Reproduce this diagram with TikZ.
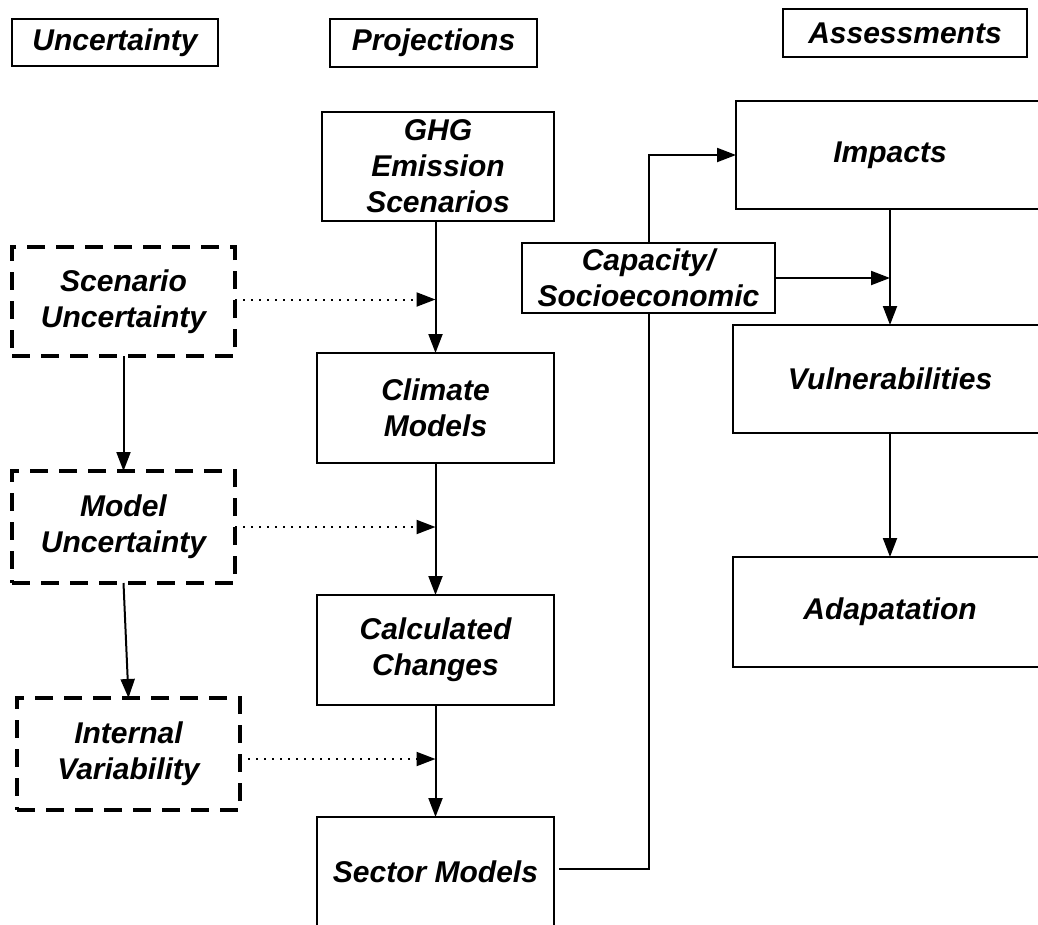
\documentclass[tikz,border=0pt]{standalone}
\usepackage{fontspec}
\setmainfont{Liberation Sans}
\usetikzlibrary{arrows.meta,backgrounds}

\tikzset{
  base/.style={inner sep=0pt, outer sep=0pt, align=center,
    font=\fontsize{30}{36}\selectfont\bfseries\itshape},
  box/.style={base, draw=black, line width=2pt, fill=white},
  dbox/.style={base, draw=black, line width=3.2pt, fill=white,
    dash pattern=on 18pt off 11pt},
  flow/.style={line width=2pt, -{Triangle[length=19pt,width=14pt]}},
  hint/.style={line width=2pt, dash pattern=on 2pt off 6pt,
    -{Triangle[length=19pt,width=14pt]}}
}

\begin{document}
\begin{tikzpicture}[x=1pt,y=-1pt]
\useasboundingbox (0,0) rectangle (1038,924);
\clip (0,0) rectangle (1038,924);

% column headings
\node[box, minimum width=206pt, minimum height=47pt] (hU) at (115,42.5) {Uncertainty};
\node[box, minimum width=207pt, minimum height=48pt] (hP) at (433.5,43) {Projections};
\node[box, minimum width=244pt, minimum height=48pt] (hA) at (905,33) {Assessments};

% projection chain
\node[box, minimum width=232pt, minimum height=109pt] (ghg) at (438,166.5) {GHG\\Emission\\Scenarios};
\node[box, minimum width=237pt, minimum height=110pt] (clim) at (435.5,408) {Climate\\Models};
\node[box, minimum width=237pt, minimum height=110pt] (calc) at (435.5,650) {Calculated\\Changes};
\node[box, minimum width=237pt, minimum height=110pt] (sec) at (435.5,872) {Sector Models};

% sources of uncertainty
\node[dbox, minimum width=223pt, minimum height=109pt] (scen) at (123.5,301.5) {Scenario\\Uncertainty};
\node[dbox, minimum width=223pt, minimum height=112pt] (mod) at (123.5,527) {Model\\Uncertainty};
\node[dbox, minimum width=223pt, minimum height=112pt] (intv) at (128.5,754) {Internal\\Variability};

% assessment chain
\node[box, minimum width=253pt, minimum height=70pt] (cap) at (648.5,278) {Capacity/\\Socioeconomic};
\node[box, minimum width=308pt, minimum height=108pt] (imp) at (890,155) {Impacts};
\node[box, minimum width=314pt, minimum height=108pt] (vul) at (890,379) {Vulnerabilities};
\node[box, minimum width=314pt, minimum height=110pt] (ada) at (890,612) {Adapatation};

% sector output routed behind the capacity box up to impacts
\coordinate (bend) at (649,0);
\coordinate (secout) at ([xshift=5pt,yshift=3pt]sec.east);
\begin{scope}[on background layer]
\draw[flow] (secout) -- (secout -| bend) -- (bend |- imp.west) -- (imp.west);
\end{scope}

% projection arrows
\draw[flow] (ghg.south -| clim.north) -- (clim.north);
\draw[flow] (clim.south) -- (calc.north);
\draw[flow] (calc.south) -- (sec.north);

% uncertainty arrows
\draw[flow] (scen.south) -- (mod.north);
\draw[flow] (mod.south) -- (intv.north);
\draw[hint] ([yshift=2pt]scen.east) -- ([yshift=2pt]scen.east -| clim.north);
\draw[hint] (mod.east) -- (mod.east -| calc.north);
\draw[hint] ([yshift=-5pt]intv.east) -- ([yshift=-5pt]intv.east -| sec.north);

% assessment arrows
\draw[flow] (imp.south) -- (vul.north);
\draw[flow] (cap.east) -- (cap.east -| imp.south);
\draw[flow] (vul.south) -- (ada.north);
\end{tikzpicture}
\end{document}
